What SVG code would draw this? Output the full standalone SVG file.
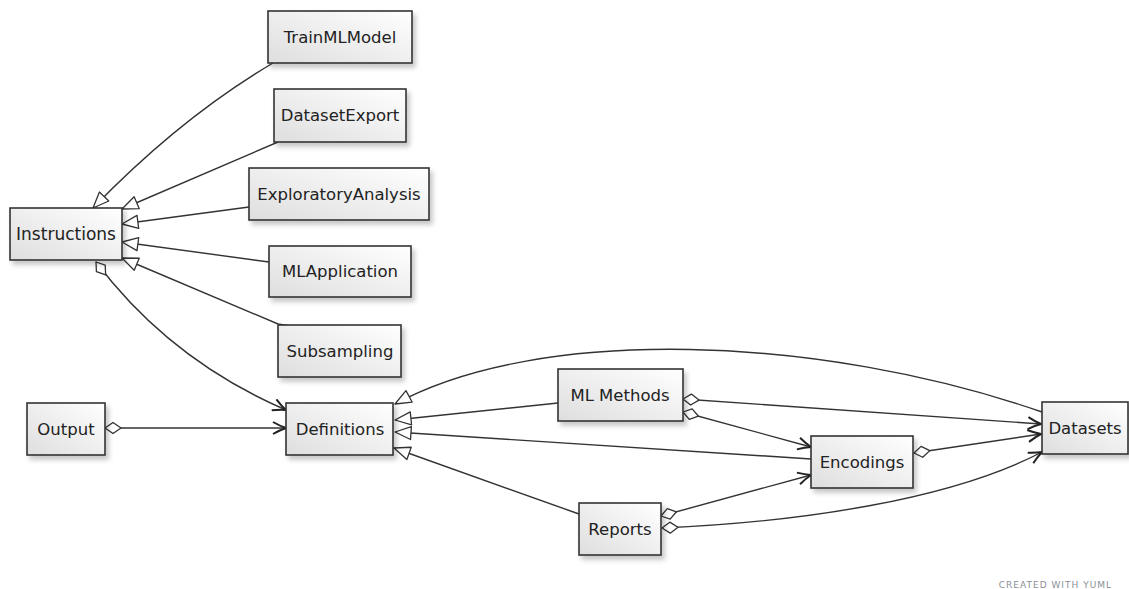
<svg xmlns="http://www.w3.org/2000/svg" width="1129" height="589" viewBox="0 0 1129 589">
<defs>
<linearGradient id="g" x1="1" y1="0" x2="0" y2="1">
<stop offset="0" stop-color="#ffffff"/>
<stop offset="1" stop-color="#dedede"/>
</linearGradient>
<filter id="sh" x="-20%" y="-20%" width="150%" height="160%">
<feDropShadow dx="3" dy="4" stdDeviation="2.5" flood-color="#000" flood-opacity="0.22"/>
</filter>
<marker id="tri" viewBox="0 0 18 16" refX="17" refY="8" markerWidth="18" markerHeight="16" markerUnits="userSpaceOnUse" orient="auto">
<path d="M1,1.5 L17,8 L1,14.5 Z" fill="#fff" stroke="#333" stroke-width="1.3" stroke-linejoin="round"/>
</marker>
<marker id="open" viewBox="0 0 16 14" refX="14" refY="7" markerWidth="16" markerHeight="14" markerUnits="userSpaceOnUse" orient="auto">
<path d="M1,1 Q8,5 14,7 Q8,9 1,13" fill="none" stroke="#222" stroke-width="2" stroke-linejoin="round"/>
</marker>
<marker id="dia" viewBox="0 0 20 14" refX="1" refY="7" markerWidth="20" markerHeight="14" markerUnits="userSpaceOnUse" orient="auto">
<path d="M1,7 L9,1.5 L17,7 L9,12.5 Z" fill="#fff" stroke="#333" stroke-width="1.3" stroke-linejoin="round"/>
</marker>
</defs>
<style>
.box{fill:url(#g);stroke:#333;stroke-width:1.6;filter:url(#sh)}
.lbl{font-family:"DejaVu Sans",sans-serif;font-size:16.5px;fill:#222;text-anchor:middle}
.c{fill:none;stroke:#333;stroke-width:1.4}
.inh{marker-end:url(#tri)}
.dep{marker-end:url(#open)}
.agg{marker-start:url(#dia)}
</style>
<rect width="1129" height="589" fill="#fff"/>
<g id="connectors">
<path class="c inh" d="M273,63 Q180,118 93,208"/>
<path class="c inh" d="M278,142 L122,209"/>
<path class="c inh" d="M249,207 L122,224"/>
<path class="c inh" d="M269,262 L122,242"/>
<path class="c inh" d="M290,326 L278,324 L122,258"/>
<path class="c agg dep" d="M96,262 Q170,360 286,410"/>
<path class="c agg dep" d="M105,428 L286,428"/>
<path class="c inh" d="M1042,412 C820,335 540,325 395,404"/>
<path class="c inh" d="M558,403 L395,420"/>
<path class="c inh" d="M811,459 L395,432"/>
<path class="c inh" d="M579,514 L394,448"/>
<path class="c agg dep" d="M683,399 L1041,424"/>
<path class="c agg dep" d="M683,412 L811,447"/>
<path class="c agg dep" d="M914,453 L1041,434"/>
<path class="c agg dep" d="M661,516 L811,475"/>
<path class="c agg dep" d="M662,528 C800,522 950,500 1042,452"/>
</g>
<g id="TrainMLModel"><rect class="box" x="268" y="11" width="144" height="52"/><text class="lbl" x="340" y="43">TrainMLModel</text></g>
<g id="DatasetExport"><rect class="box" x="274" y="89" width="132" height="53"/><text class="lbl" x="340" y="121">DatasetExport</text></g>
<g id="ExploratoryAnalysis"><rect class="box" x="249" y="168" width="180" height="52"/><text class="lbl" x="339" y="200">ExploratoryAnalysis</text></g>
<g id="MLApplication"><rect class="box" x="269" y="246" width="142" height="51"/><text class="lbl" x="340" y="277">MLApplication</text></g>
<g id="Subsampling"><rect class="box" x="278" y="325" width="123" height="52"/><text class="lbl" x="340" y="357">Subsampling</text></g>
<g id="Instructions"><rect class="box" x="10" y="208" width="112" height="52"/><text class="lbl" x="66" y="240" style="font-size:17px">Instructions</text></g>
<g id="Output"><rect class="box" x="27" y="403" width="78" height="52"/><text class="lbl" x="66" y="435">Output</text></g>
<g id="Definitions"><rect class="box" x="286" y="403" width="107" height="52"/><text class="lbl" x="340" y="435">Definitions</text></g>
<g id="MLMethods"><rect class="box" x="558" y="369" width="125" height="52"/><text class="lbl" x="620" y="401">ML Methods</text></g>
<g id="Reports"><rect class="box" x="579" y="503" width="82" height="52"/><text class="lbl" x="620" y="535">Reports</text></g>
<g id="Encodings"><rect class="box" x="811" y="436" width="102" height="52"/><text class="lbl" x="862" y="468">Encodings</text></g>
<g id="Datasets"><rect class="box" x="1042" y="402" width="86" height="52"/><text class="lbl" x="1085" y="434">Datasets</text></g>
<text x="1112" y="588" font-family="'DejaVu Sans',sans-serif" font-size="9" letter-spacing="1" fill="#8a8f96" text-anchor="end">CREATED WITH YUML</text>
</svg>
